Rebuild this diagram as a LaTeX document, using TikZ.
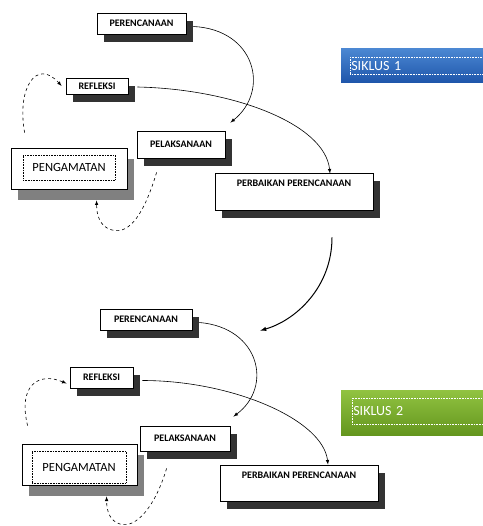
\documentclass[tikz,border=0pt]{standalone}
\usepackage{fontspec}
\setmainfont{Carlito}
\usetikzlibrary{shadows}

\begin{document}
\begin{tikzpicture}[x=1pt,y=-1pt]
		\tikzstyle{every node}=[font=\fontsize{10}{11}\selectfont\bfseries]
		\tikzstyle{kotak} = [draw, fill=white, line width=0.8pt, inner sep=0pt, drop shadow={shadow xshift=7pt, shadow yshift=-8pt, fill=black!80, opacity=1}]
		\tikzstyle{atas} = [text height=6pt, text depth=15pt]
		\tikzstyle{amat} = [draw, fill=white, line width=0.8pt, inner sep=0pt, drop shadow={shadow xshift=7pt, shadow yshift=-11pt, fill=black!50, opacity=1}]
		\tikzstyle{amatteks} = [draw, densely dotted, line width=0.6pt, inner sep=0pt, font=\fontsize{12.5}{14}\selectfont]
		\tikzstyle{siklus} = [inner sep=0pt, minimum width=149pt]
		\tikzstyle{siklusteks} = [draw=white, densely dotted, line width=0.6pt, anchor=west, text=white, inner sep=1pt, text width=136pt, align=left, font=\fontsize{14}{16}\selectfont]
		\tikzstyle{panah} = [->, line width=0.6pt, >=latex]
		\tikzstyle{panahputus} = [->, line width=0.6pt, >=latex, dashed]
		
		\useasboundingbox (0,0) rectangle (482,526);
		
		% siklus 1
		\draw (141.5,23.5) node[kotak, minimum width=89pt, minimum height=21pt](ren1){PERENCANAAN};
		\draw (97,86) node[kotak, minimum width=62pt, minimum height=16pt](ref1){REFLEKSI};
		\draw (181,144.5) node[kotak, minimum width=88pt, minimum height=27pt](pel1){PELAKSANAAN};
		\draw (69,168.5) node[amat, minimum width=116pt, minimum height=41pt](pen1){};
		\draw (69,167.5) node[amatteks, minimum width=92pt, minimum height=25pt](pen1t){PENGAMATAN};
		\draw (294,191.5) node[kotak, atas, minimum width=158pt, minimum height=37pt](per1){PERBAIKAN PERENCANAAN};
		\draw (415.5,66) node[siklus, minimum height=34pt, top color={rgb,255:red,75; green,135; blue,210}, bottom color={rgb,255:red,30; green,85; blue,170}](sik1){};
		\draw (350,66) node[siklusteks, minimum height=17pt](sik1t){SIKLUS 1};
		
		\draw [panah] ([xshift=7pt,yshift=-3pt]ren1.east) .. controls +(62,3) and +(40,-32) .. ([xshift=5pt,yshift=8pt]pel1.north east);
		\draw [panah] ([xshift=9pt,yshift=-1pt]ref1.east) .. controls +(95,2) and +(-5,-50) .. ([xshift=36pt,yshift=-1pt]per1.north);
		\draw [panahputus] ([xshift=14pt,yshift=15pt]pen1.north west) .. controls +(-8,-45) and +(-25,-28) .. ([xshift=-4pt]ref1.west);
		\draw [panahputus] ([xshift=20pt,yshift=-14pt]pel1.south west) .. controls +(-12,40) and +(18,5) .. (112,230) .. controls +(-12,-3) and +(0,15) .. ([xshift=86pt,yshift=-11pt]pen1.south west);
		
		% siklus 2
		\draw (146,319.5) node[kotak, minimum width=92pt, minimum height=21pt](ren2){PERENCANAAN};
		\draw (101.5,377.5) node[kotak, minimum width=63pt, minimum height=21pt](ref2){REFLEKSI};
		\draw (185,438.5) node[kotak, minimum width=90pt, minimum height=25pt](pel2){PELAKSANAAN};
		\draw (79.5,464.5) node[amat, minimum width=115pt, minimum height=41pt](pen2){};
		\draw (79,467) node[amatteks, minimum width=94pt, minimum height=32pt](pen2t){PENGAMATAN};
		\draw (299,483) node[kotak, atas, minimum width=158pt, minimum height=36pt](per2){PERBAIKAN PERENCANAAN};
		\draw (415.5,412.5) node[siklus, minimum height=45pt, top color={rgb,255:red,145; green,195; blue,65}, bottom color={rgb,255:red,100; green,150; blue,30}](sik2){};
		\draw (352,411) node[siklusteks, minimum height=26pt](sik2t){SIKLUS 2};
		
		\draw [panah] ([xshift=7pt,yshift=-3pt]ren2.east) .. controls +(60,5) and +(40,-30) .. ([xshift=3pt,yshift=9pt]pel2.north east);
		\draw [panah] ([xshift=9pt,yshift=-3pt]ref2.east) .. controls +(90,0) and +(-5,-45) .. ([xshift=29pt]per2.north);
		\draw [panahputus] ([xshift=6pt,yshift=18pt]pen2.north west) .. controls +(-10,-40) and +(-28,-12) .. ([xshift=-3pt,yshift=-6pt]ref2.west);
		\draw [panahputus] ([xshift=27pt,yshift=-17pt]pel2.south west) .. controls +(-12,40) and +(15,5) .. (120,524) .. controls +(-10,-3) and +(0,15) .. ([xshift=85pt,yshift=-11pt]pen2.south west);
		
		% antar siklus
		\draw [panah, line width=1pt] ([xshift=38pt,yshift=-27pt]per1.south) .. controls +(0,50) and +(35,-10) .. ([xshift=68pt,yshift=-11pt]ren2.east);
	\end{tikzpicture}
\end{document}
